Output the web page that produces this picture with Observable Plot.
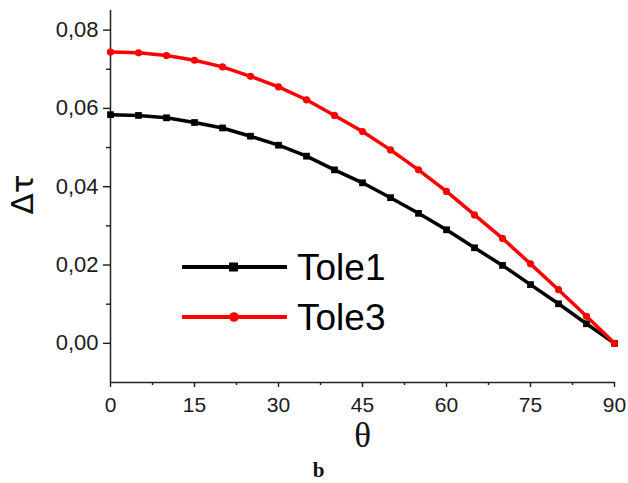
<!DOCTYPE html>
<html>
<head>
<meta charset="utf-8">
<script src="https://cdn.jsdelivr.net/npm/d3@7"></script>
<script src="https://cdn.jsdelivr.net/npm/@observablehq/plot@0.6"></script>
<style>
  html, body { margin: 0; padding: 0; background: #fff; }
  #chart { position: relative; width: 628px; height: 483px; }
  #legend { position: absolute; left: 0; top: 0; pointer-events: none; }
</style>
</head>
<body>
<div id="chart"></div>
<script>
const theta = [0, 5, 10, 15, 20, 25, 30, 35, 40, 45, 50, 55, 60, 65, 70, 75, 80, 85, 90];
const tole1 = [0.0584, 0.0582, 0.0576, 0.0564, 0.0550, 0.0529, 0.0506, 0.0478, 0.0443, 0.0410, 0.0372, 0.0332, 0.0290, 0.0244, 0.0199, 0.0150, 0.0101, 0.0050, 0.0000];
const tole3 = [0.0744, 0.0742, 0.0735, 0.0723, 0.0706, 0.0682, 0.0655, 0.0622, 0.0582, 0.0541, 0.0494, 0.0443, 0.0388, 0.0328, 0.0268, 0.0203, 0.0137, 0.0069, 0.0000];
const seriesNames = ["Tole1", "Tole3"];
const seriesColors = ["#000000", "#ff0000"];
const seriesSymbols = ["square", "circle"];
const xTicks = [0, 15, 30, 45, 60, 75, 90];
const xMinor = [7.5, 22.5, 37.5, 52.5, 67.5, 82.5];
const yTicks = [0, 0.02, 0.04, 0.06, 0.08];
const yMinor = [0.01, 0.03, 0.05, 0.07];
const xLabel = "θ";
const yLabel = "Δτ";
const caption = "b";

const rows1 = theta.map((t, i) => ({theta: t, v: tole1[i], s: "Tole1"}));
const rows3 = theta.map((t, i) => ({theta: t, v: tole3[i], s: "Tole3"}));
const fmt = d => d3.format(".2f")(d).replace(".", ",");

const plot = Plot.plot({
  width: 628,
  height: 483,
  marginLeft: 110,
  marginRight: 14,
  marginTop: 10,
  marginBottom: 101,
  style: {fontFamily: "Liberation Sans, Arial, sans-serif", background: "#fff", color: "#1a1a1a"},
  x: {domain: [0, 90]},
  y: {domain: [-0.01, 0.085]},
  marks: [
    Plot.axisY({ticks: yTicks, tickSize: 7, tickPadding: 5, tickFormat: fmt, fontSize: 22, label: null, strokeWidth: 1.4}),
    Plot.axisY({ticks: yMinor, tickSize: 4, tickFormat: () => "", label: null, strokeWidth: 1.4}),
    Plot.axisX({ticks: xTicks, tickSize: 5, tickPadding: 10, fontSize: 21, label: null, strokeWidth: 1.4}),
    Plot.axisX({ticks: xMinor, tickSize: 3, tickFormat: () => "", label: null, strokeWidth: 1.4}),
    Plot.ruleX([0], {stroke: "#222", strokeWidth: 1.5}),
    Plot.ruleY([-0.01], {stroke: "#222", strokeWidth: 1.5}),
    Plot.line(rows1, {x: "theta", y: "v", stroke: seriesColors[0], strokeWidth: 3.5}),
    Plot.dot(rows1, {x: "theta", y: "v", fill: seriesColors[0], symbol: seriesSymbols[0], r: 3.8}),
    Plot.line(rows3, {x: "theta", y: "v", stroke: seriesColors[1], strokeWidth: 3.5}),
    Plot.dot(rows3, {x: "theta", y: "v", fill: seriesColors[1], symbol: seriesSymbols[1], r: 3.6}),
    Plot.text([yLabel], {frameAnchor: "left", dx: -87, dy: 18, rotate: -90, fontSize: 31, fontFamily: "DejaVu Sans, Liberation Sans, sans-serif", fill: "#111"}),
    Plot.text([xLabel], {frameAnchor: "bottom", dy: 64, fontSize: 35, fontFamily: "Liberation Serif, Times New Roman, serif", fill: "#111"}),
    Plot.text([caption], {frameAnchor: "bottom", dx: -44, dy: 94, fontSize: 21, fontWeight: "bold", fontFamily: "Liberation Serif, Times New Roman, serif", fill: "#111"})
  ]
});
document.getElementById("chart").appendChild(plot);

// Legend overlay
const leg = d3.select("#chart").append("svg")
  .attr("id", "legend").attr("width", 628).attr("height", 483);
const legendY = [267, 317];
seriesNames.forEach((name, i) => {
  const g = leg.append("g").attr("transform", `translate(182,${legendY[i]})`);
  g.append("line").attr("x1", 0).attr("x2", 105).attr("y1", 0).attr("y2", 0)
    .attr("stroke", seriesColors[i]).attr("stroke-width", 4);
  if (seriesSymbols[i] === "square") {
    g.append("rect").attr("x", 47).attr("y", -4.5).attr("width", 9).attr("height", 9).attr("fill", seriesColors[i]);
  } else {
    g.append("circle").attr("cx", 52).attr("cy", 0).attr("r", 4.8).attr("fill", seriesColors[i]);
  }
  g.append("text").attr("x", 115).attr("y", 0).attr("dy", "0.36em")
    .attr("font-family", "Liberation Sans, Arial, sans-serif").attr("font-size", 37)
    .attr("fill", "#000").text(name);
});
</script>
</body>
</html>
